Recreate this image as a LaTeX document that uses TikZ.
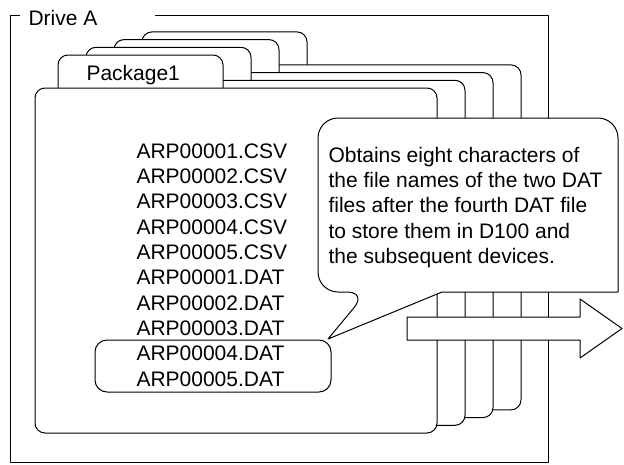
\documentclass[tikz,border=0pt]{standalone}
\usepackage{fontspec}
\setmainfont{Liberation Sans}
\usetikzlibrary{positioning}

\begin{document}
\begin{tikzpicture}[
    x=1pt, y=-1pt, line width=1pt, line join=round,
    lbl/.style={inner sep=0pt, anchor=base west, font=\fontsize{21}{25.4}\selectfont},
    tabshape/.style={draw, fill=white, rounded corners=10pt},
    bodyshape/.style={draw, fill=white, rounded corners=10pt},
    selbox/.style={draw, rounded corners=12pt},
    bubble/.style={draw, fill=white},
    bigarrow/.style={draw, fill=white}
  ]
    \useasboundingbox (0,0) rectangle (624,464);

    % drive frame
    \node[lbl] (drive) at (28,25) {Drive A};
    \draw (20,15.7) -- (10,15.7) -- (10,462) -- (548,462) -- (548,15.7) -- (155,15.7);

    % stacked packages, back to front
    \foreach \i in {3,2,1,0} {
      \begin{scope}[shift={(28*\i,-7.7*\i)}]
        \draw[tabshape] (58,88) -- (58,55) -- (223,55) -- (223,88);
        \draw[bodyshape] (35,88) rectangle (437,433);
      \end{scope}
    }
    \node[lbl] (pkg) at (86,80) {Package1};

    % files
    \foreach \f [count=\k from 0] in {ARP00001.CSV, ARP00002.CSV, ARP00003.CSV,
        ARP00004.CSV, ARP00005.CSV, ARP00001.DAT, ARP00002.DAT, ARP00003.DAT,
        ARP00004.DAT, ARP00005.DAT}
      \node[lbl] (file\k) at (136,158+25.35*\k) {\f};
    \draw[selbox] (95,340) rectangle (331,392);

    % callout
    \draw[bubble] (328,339) -- (442,292) -- (618,292) [rounded corners=20pt]
      -- (618,118) -- (318,118) -- (318,292) -- (367,292) [sharp corners] -- cycle;
    \node[lbl, align=left] (note) at (328,263.6) {Obtains eight characters of\\
      the file names of the two DAT\\files after the fourth DAT file\\
      to store them in D100 and\\the subsequent devices.};

    % arrow
    \draw[bigarrow] (407,317) -- (580,317) -- (580,299) -- (622,328.5)
      -- (580,358) -- (580,340) -- (407,340) -- cycle;
  \end{tikzpicture}
\end{document}
